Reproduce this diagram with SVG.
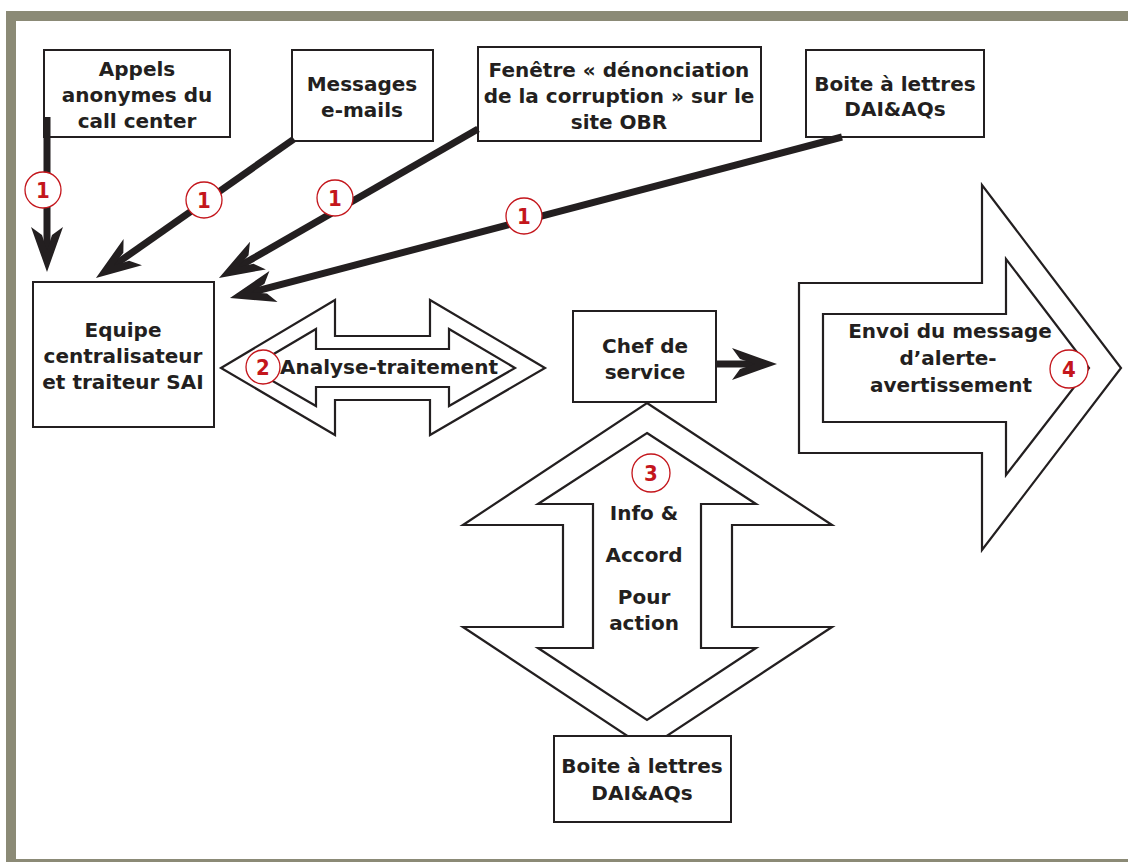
<svg xmlns="http://www.w3.org/2000/svg" width="1128" height="862" viewBox="0 0 1128 862">
<defs>
<style>
.box{fill:#fff;stroke:#231f20;stroke-width:2}
.shape{fill:#fff;stroke:#231f20;stroke-width:2.2;stroke-linejoin:miter}
.t{font-family:"DejaVu Sans","Liberation Sans",sans-serif;font-weight:bold;font-size:20px;fill:#231f20;text-anchor:middle}
.num{font-family:"DejaVu Sans Condensed","DejaVu Sans",sans-serif;font-weight:bold;font-size:22px;fill:#c4161c;text-anchor:middle}
.circ{fill:#fff;stroke:#c4161c;stroke-width:1.3}
.conn{stroke:#231f20;stroke-width:7;fill:none;marker-end:url(#ah)}
.frame{fill:#8b8a76}
</style>
<marker id="ah" markerUnits="userSpaceOnUse" viewBox="-48 -18 52 36" markerWidth="52" markerHeight="36" refX="-20" refY="0" orient="auto">
<path d="M0,0 L-45,-16 L-37,-5 L-22,0 L-37,5 L-45,16 Z" fill="#231f20"/>
</marker>
</defs>
<rect width="1128" height="862" fill="#fff"/>
<g id="frame">
<rect class="frame" x="6" y="11" width="1122" height="10"/>
<rect class="frame" x="6" y="11" width="10" height="851"/>
<rect class="frame" x="6" y="859" width="1122" height="3"/>
</g>

<g id="node-appels">
<rect class="box" x="44" y="50" width="186" height="87"/>
<text class="t" x="137" y="76">Appels</text>
<text class="t" x="137" y="102">anonymes du</text>
<text class="t" x="137" y="128">call center</text>
</g>
<g id="node-messages">
<rect class="box" x="292" y="50" width="141" height="91"/>
<text class="t" x="362" y="91">Messages</text>
<text class="t" x="362" y="117">e-mails</text>
</g>
<g id="node-fenetre">
<rect class="box" x="478" y="47" width="283" height="94"/>
<text class="t" x="619" y="77">Fenêtre « dénonciation</text>
<text class="t" x="619" y="103">de la corruption » sur le</text>
<text class="t" x="619" y="129">site OBR</text>
</g>
<g id="node-boite-top">
<rect class="box" x="806" y="50" width="178" height="87"/>
<text class="t" x="895" y="91">Boite à lettres</text>
<text class="t" x="895" y="116">DAI&amp;AQs</text>
</g>
<g id="node-equipe">
<rect class="box" x="33" y="282" width="181" height="145"/>
<text class="t" x="123" y="337">Equipe</text>
<text class="t" x="123" y="363">centralisateur</text>
<text class="t" x="123" y="389">et traiteur SAI</text>
</g>

<g id="connectors">
<line class="conn" x1="47" y1="117" x2="47" y2="252"/>
<line class="conn" x1="294" y1="139" x2="112.3" y2="266.5"/>
<line class="conn" x1="478" y1="129" x2="236.3" y2="268"/>
<line class="conn" x1="842" y1="137" x2="249.3" y2="292.9"/>
<line class="conn" x1="716" y1="364" x2="757" y2="364"/>
<circle class="circ" cx="43" cy="190" r="18"/>
<text class="num" x="43" y="198">1</text>
<circle class="circ" cx="204" cy="200" r="18"/>
<text class="num" x="204" y="208">1</text>
<circle class="circ" cx="335" cy="198" r="18"/>
<text class="num" x="335" y="206">1</text>
<circle class="circ" cx="524" cy="216" r="18"/>
<text class="num" x="524" y="224">1</text>
</g>

<g id="node-analyse">
<polygon class="shape" points="221,368 335,300 335,336 430,336 430,300 545,368 430,435 430,400 335,400 335,435"/>
<polygon class="shape" points="250,368 316,329 316,349 449,349 449,329 515,368 449,406 449,387 316,387 316,406"/>
<circle class="circ" cx="263" cy="367" r="17"/>
<text class="num" x="263" y="375">2</text>
<text class="t" x="389" y="374">Analyse-traitement</text>
</g>

<g id="node-chef">
<rect class="box" x="573" y="311" width="143" height="91"/>
<text class="t" x="645" y="353">Chef de</text>
<text class="t" x="645" y="379">service</text>
</g>

<g id="node-info">
<polygon class="shape" points="647,403 832,525 732,525 732,627 832,627 647,749 463,627 563,627 563,525 463,525"/>
<polygon class="shape" points="647,433 756,504 701,504 701,648 756,648 647,720 538,648 593,648 593,504 538,504"/>
<circle class="circ" cx="651" cy="473" r="19"/>
<text class="num" x="651" y="481">3</text>
<text class="t" x="644" y="520">Info &amp;</text>
<text class="t" x="644" y="562">Accord</text>
<text class="t" x="644" y="604">Pour</text>
<text class="t" x="644" y="630">action</text>
</g>

<g id="node-boite-bottom">
<rect class="box" x="554" y="736" width="177" height="86"/>
<text class="t" x="642" y="773">Boite à lettres</text>
<text class="t" x="642" y="800">DAI&amp;AQs</text>
</g>

<g id="node-envoi">
<polygon class="shape" points="799,283 982,283 982,185 1121,368 982,550 982,453 799,453"/>
<polygon class="shape" points="823,314 1006,314 1006,259 1089,368 1006,475 1006,422 823,422"/>
<circle class="circ" cx="1069" cy="369" r="19"/>
<text class="num" x="1069" y="377">4</text>
<text class="t" x="950" y="338">Envoi du message</text>
<text class="t" x="948" y="365">d’alerte-</text>
<text class="t" x="951" y="392">avertissement</text>
</g>
</svg>
